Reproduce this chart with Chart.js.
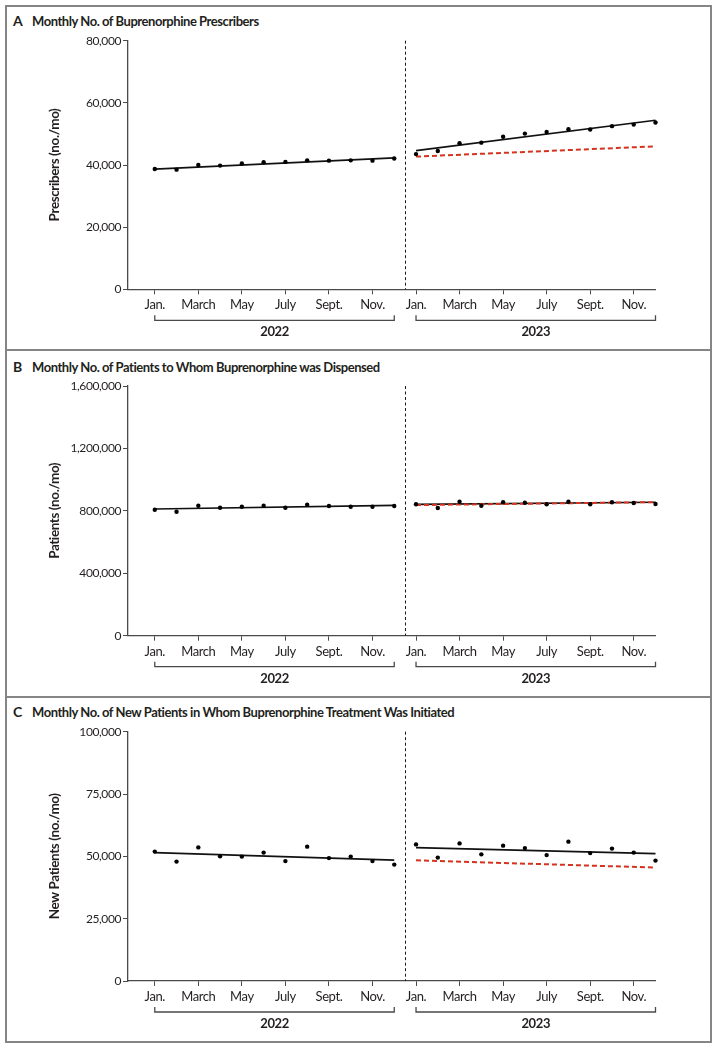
<!DOCTYPE html>
<html>
<head>
<meta charset="utf-8">
<script src="https://cdn.jsdelivr.net/npm/chart.js@4.4.1/dist/chart.umd.min.js"></script>
<style>
  html, body { margin: 0; padding: 0; background: #fff; }
  body { width: 719px; height: 1050px; position: relative; overflow: hidden; }
  #frame { position: absolute; left: 5px; top: 5px; width: 707px; height: 1038px;
           border: 2px solid #858585; box-sizing: border-box; }
  .sep { position: absolute; left: 5px; width: 707px; height: 2px; background: #858585; }
  canvas { position: absolute; left: 0; }
  .title { position: absolute; left: 13px; font: bold 13px Lato, sans-serif; letter-spacing: -0.45px;
           color: #231f20; white-space: nowrap; }
  .title .letter { display: inline-block; width: 19px; font-size: 14px; letter-spacing: 0; }
</style>
</head>
<body>
<div id="frame"></div>
<div class="sep" style="top:349px"></div>
<div class="sep" style="top:696px"></div>

<div class="title" style="top:12px"><span class="letter">A</span>Monthly No. of Buprenorphine Prescribers</div>
<div class="title" style="top:358px"><span class="letter">B</span>Monthly No. of Patients to Whom Buprenorphine was Dispensed</div>
<div class="title" style="top:703px"><span class="letter">C</span>Monthly No. of New Patients in Whom Buprenorphine Treatment Was Initiated</div>

<canvas id="chartA" width="719" height="345" style="top:5px"></canvas>
<canvas id="chartB" width="719" height="345" style="top:350px"></canvas>
<canvas id="chartC" width="719" height="345" style="top:697px"></canvas>

<script>
// Month names, years and which months get a tick label
const monthNames = ['Jan.', 'Feb.', 'March', 'April', 'May', 'June', 'July', 'Aug.', 'Sept.', 'Oct.', 'Nov.', 'Dec.'];
const years = ['2022', '2023'];
const tickMonths = ['Jan.', 'March', 'May', 'July', 'Sept.', 'Nov.'];

// Panel A: prescribers per month
const prescribers2022 = [38700, 38500, 40000, 39800, 40500, 40900, 41000, 41500, 41400, 41500, 41400, 42100];
const prescribers2023 = [43500, 44500, 47000, 47200, 49100, 50100, 50600, 51500, 51400, 52500, 53000, 53700];
const prescribersTrend2022 = [38700, 42300];     // Jan, Dec fitted
const prescribersTrend2023 = [44600, 54400];
const prescribersExpected2023 = [42700, 46000];  // red dashed counterfactual

// Panel B: patients dispensed per month
const patients2022 = [807000, 794000, 833000, 820000, 826000, 833000, 820000, 839000, 831000, 826000, 826000, 831000];
const patients2023 = [842000, 818000, 858000, 833000, 855000, 852000, 842000, 858000, 842000, 855000, 850000, 844000];
const patientsTrend2022 = [812000, 835000];
const patientsTrend2023 = [842000, 855000];
const patientsExpected2023 = [837000, 856000];

// Panel C: new patients per month
const newPatients2022 = [51900, 47900, 53600, 50000, 49900, 51500, 48100, 53900, 49300, 49900, 48100, 46700];
const newPatients2023 = [54800, 49500, 55200, 50800, 54300, 53300, 50500, 55900, 51300, 53100, 51500, 48300];
const newPatientsTrend2022 = [51500, 48500];
const newPatientsTrend2023 = [53500, 51100];
const newPatientsExpected2023 = [48400, 45500];

const FONT = 'Lato, sans-serif';
const INK = '#231f20';
const AXIS = '#4a4a4a';
const RED = '#d5331f';

// month index 0..23 across the two years
const toPoints = (vals, yearIdx) => vals.map((v, i) => ({ x: yearIdx * 12 + i, y: v }));
const toTrend = (ends, yearIdx) => [{ x: yearIdx * 12, y: ends[0] }, { x: yearIdx * 12 + 11, y: ends[1] }];
const tickValues = [];
years.forEach((y, k) => tickMonths.forEach(m => tickValues.push(k * 12 + monthNames.indexOf(m))));

// Tighter text, closer to the narrow journal face
const tightText = {
  id: 'tightText',
  beforeDraw(chart) { chart.ctx.letterSpacing = '-0.4px'; }
};

// Draws the dashed year break and the year brackets under the x axis
const yearBrackets = {
  id: 'yearBrackets',
  afterDraw(chart) {
    const { ctx, chartArea, scales: { x } } = chart;
    ctx.save();
    const xb = Math.round(x.getPixelForValue(11.5)) + 0.5;
    ctx.strokeStyle = '#1a1a1a';
    ctx.lineWidth = 1;
    ctx.setLineDash([3, 2.5]);
    ctx.beginPath();
    ctx.moveTo(xb, chartArea.top);
    ctx.lineTo(xb, chartArea.bottom);
    ctx.stroke();
    ctx.setLineDash([]);

    ctx.strokeStyle = AXIS;
    ctx.lineWidth = 1.3;
    ctx.fillStyle = INK;
    ctx.font = 'bold 13px ' + FONT;
    ctx.textAlign = 'center';
    ctx.textBaseline = 'middle';
    years.forEach((yr, k) => {
      const x0 = x.getPixelForValue(k * 12);
      const x1 = x.getPixelForValue(k * 12 + 11);
      const yb = chartArea.bottom + 31;
      ctx.beginPath();
      ctx.moveTo(x0, yb - 5);
      ctx.lineTo(x0, yb);
      ctx.lineTo(x1, yb);
      ctx.lineTo(x1, yb - 5);
      ctx.stroke();
      ctx.fillText(yr, (x0 + x1) / 2, yb + 12);
    });
    ctx.restore();
  }
};

function makePanel(id, cfg) {
  const ctx = document.getElementById(id).getContext('2d');
  return new Chart(ctx, {
    type: 'scatter',
    data: {
      datasets: [
        { data: toPoints(cfg.pts2022, 0).concat(toPoints(cfg.pts2023, 1)), showLine: false, clip: false,
          pointRadius: 2.2, pointBackgroundColor: '#000', pointBorderWidth: 0, order: 0 },
        { data: toTrend(cfg.trend2022, 0), showLine: true, borderColor: '#111', borderWidth: 1.7,
          pointRadius: 0, clip: false, order: 2 },
        { data: toTrend(cfg.trend2023, 1), showLine: true, borderColor: '#111', borderWidth: 1.7,
          pointRadius: 0, clip: false, order: 2 },
        { data: toTrend(cfg.expected2023, 1), showLine: true, borderColor: RED, borderWidth: 2,
          borderDash: [5, 3], pointRadius: 0, clip: false, order: 1 }
      ]
    },
    options: {
      responsive: false,
      animation: false,
      devicePixelRatio: 1,
      layout: { padding: { top: cfg.top, right: 63.5, left: 0, bottom: 0 } },
      plugins: { legend: { display: false }, tooltip: { enabled: false } },
      scales: {
        x: {
          type: 'linear',
          min: -1.23,
          max: 23,
          afterBuildTicks: s => { s.ticks = tickValues.map(v => ({ value: v })); },
          afterFit: s => { s.height = cfg.xHeight; },
          grid: { drawOnChartArea: false, drawTicks: true, tickLength: 5, color: AXIS, lineWidth: 1 },
          border: { display: true, color: AXIS, width: 1.3 },
          ticks: { autoSkip: false, maxRotation: 0, padding: 3, color: INK,
                   font: { family: FONT, size: 13 },
                   callback: v => monthNames[v % 12] }
        },
        y: {
          min: 0,
          max: cfg.yMax,
          afterFit: s => { s.width = 128; },
          grid: { drawOnChartArea: false, drawTicks: true, tickLength: 5, color: AXIS, lineWidth: 1 },
          border: { display: true, color: AXIS, width: 1.3 },
          ticks: { stepSize: cfg.yStep, padding: 2, color: INK,
                   font: { family: FONT, size: 12 },
                   callback: v => v.toLocaleString('en-US') },
          title: { display: true, text: cfg.yTitle, color: INK,
                   font: { family: FONT, size: 13.5, weight: 'bold' },
                   padding: { top: 47, bottom: 0 } }
        }
      }
    },
    plugins: [tightText, yearBrackets]
  });
}

makePanel('chartA', {
  pts2022: prescribers2022, pts2023: prescribers2023,
  trend2022: prescribersTrend2022, trend2023: prescribersTrend2023, expected2023: prescribersExpected2023,
  yMax: 80000, yStep: 20000, yTitle: 'Prescribers (no./mo)', top: 35.7, xHeight: 60.7
});
makePanel('chartB', {
  pts2022: patients2022, pts2023: patients2023,
  trend2022: patientsTrend2022, trend2023: patientsTrend2023, expected2023: patientsExpected2023,
  yMax: 1600000, yStep: 400000, yTitle: 'Patients (no./mo)', top: 36, xHeight: 59.3
});
makePanel('chartC', {
  pts2022: newPatients2022, pts2023: newPatients2023,
  trend2022: newPatientsTrend2022, trend2023: newPatientsTrend2023, expected2023: newPatientsExpected2023,
  yMax: 100000, yStep: 25000, yTitle: 'New Patients (no./mo)', top: 34.7, xHeight: 61
});
</script>
</body>
</html>
